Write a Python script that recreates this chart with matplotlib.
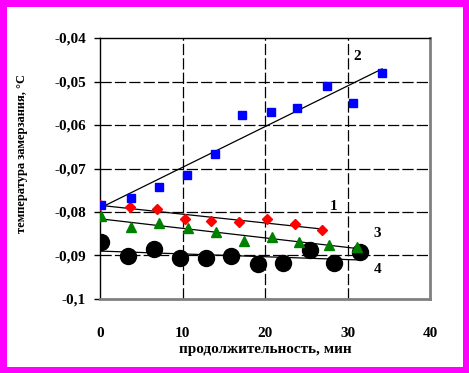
import numpy as np
import matplotlib
matplotlib.use("Agg")
import matplotlib.pyplot as plt

# series 1 - red diamonds
t1 = [0, 3.6, 6.9, 10.3, 13.5, 16.9, 20.2, 23.6, 26.9]
v1 = [-0.0783, -0.0788, -0.0794, -0.0815, -0.0821, -0.0823, -0.0815, -0.0828, -0.0842]
# series 2 - blue squares
t2 = [0.1, 3.8, 7.2, 10.5, 13.9, 17.2, 20.7, 23.9, 27.5, 30.7, 34.2]
v2 = [-0.0784, -0.0767, -0.0742, -0.0716, -0.0667, -0.0577, -0.0569, -0.0562, -0.0510, -0.0550, -0.0481]
# series 3 - green triangles
t3 = [0.1, 3.8, 7.2, 10.7, 14.0, 17.5, 20.9, 24.1, 27.7, 31.1]
v3 = [-0.0809, -0.0834, -0.0826, -0.0837, -0.0845, -0.0866, -0.0858, -0.0870, -0.0876, -0.0880]
# series 4 - black circles
t4 = [0.1, 3.45, 6.5, 9.7, 12.8, 15.9, 19.1, 22.2, 25.4, 28.4, 31.5]
v4 = [-0.0870, -0.0901, -0.0885, -0.0905, -0.0906, -0.0901, -0.0920, -0.0917, -0.0887, -0.0917, -0.0893]

yticks = [-0.04, -0.05, -0.06, -0.07, -0.08, -0.09, -0.1]
ylabels = ["-0,04", "-0,05", "-0,06", "-0,07", "-0,08", "-0,09", "-0,1"]
xticks = [0, 10, 20, 30, 40]

plt.rcParams['font.family'] = ['Liberation Serif', 'DejaVu Serif']

fig = plt.figure(figsize=(4.69, 3.73), dpi=100)
fig.patch.set_facecolor('white')
fig.patch.set_edgecolor('#FF00FF')
fig.patch.set_linewidth(8)

ax = fig.add_axes([100/469, 74/373, 330/469, 261/373])
ax.set_xlim(0, 40)
ax.set_ylim(-0.1, -0.04)

# grid
for gx in [10, 20, 30]:
    ax.axvline(gx, color='black', lw=0.9, ls=(0, (9, 2.5)), zorder=1)
for gy in [-0.05, -0.06, -0.07, -0.08, -0.09]:
    ax.axhline(gy, color='black', lw=0.9, ls=(0, (9, 2.5)), zorder=1)

# trend lines
for t, v in [(t1, v1), (t2, v2), (t3, v3), (t4, v4)]:
    k, b = np.polyfit(t, v, 1)
    xs = np.array([0, max(t)])
    ax.plot(xs, k*xs + b, color='black', lw=0.9, zorder=2)

ax.plot(t4, v4, 'o', color='black', ms=11.5, zorder=3)
ax.plot(t3, v3, '^', color='#008000', ms=7, zorder=4)
ax.plot(t1, v1, 'D', color='#FF0000', ms=5.5, zorder=5)
ax.plot(t2, v2, 's', color='#0000FF', ms=6, zorder=6)

# curve numbers
ax.text(31.2, -0.0443, "2", fontsize=11, fontweight='bold', ha='center', va='center')
ax.text(28.3, -0.0788, "1", fontsize=11, fontweight='bold', ha='center', va='center')
ax.text(33.6, -0.0849, "3", fontsize=11, fontweight='bold', ha='center', va='center')
ax.text(33.7, -0.0932, "4", fontsize=11, fontweight='bold', ha='center', va='center')

ax.set_yticks(yticks)
ax.set_yticklabels(ylabels, fontsize=11, fontweight='bold')
ax.set_xticks(xticks)
ax.set_xticklabels([str(x) for x in xticks], fontsize=11, fontweight='bold')
ax.tick_params(axis='y', length=4, width=1, pad=6)
ax.tick_params(axis='x', length=0, pad=20)

for s in ['left', 'top']:
    ax.spines[s].set_color('black')
    ax.spines[s].set_linewidth(1)
for s in ['right', 'bottom']:
    ax.spines[s].set_color('#808080')
    ax.spines[s].set_linewidth(2)

ax.set_xlabel("продолжительность, мин", fontsize=11, fontweight='bold', labelpad=2)
fig.text(22/469, 1 - 153/373, "температура замерзания, °С", rotation=90,
         fontsize=9, fontweight='bold', ha='center', va='center')

fig.savefig("out.png", dpi=100)
